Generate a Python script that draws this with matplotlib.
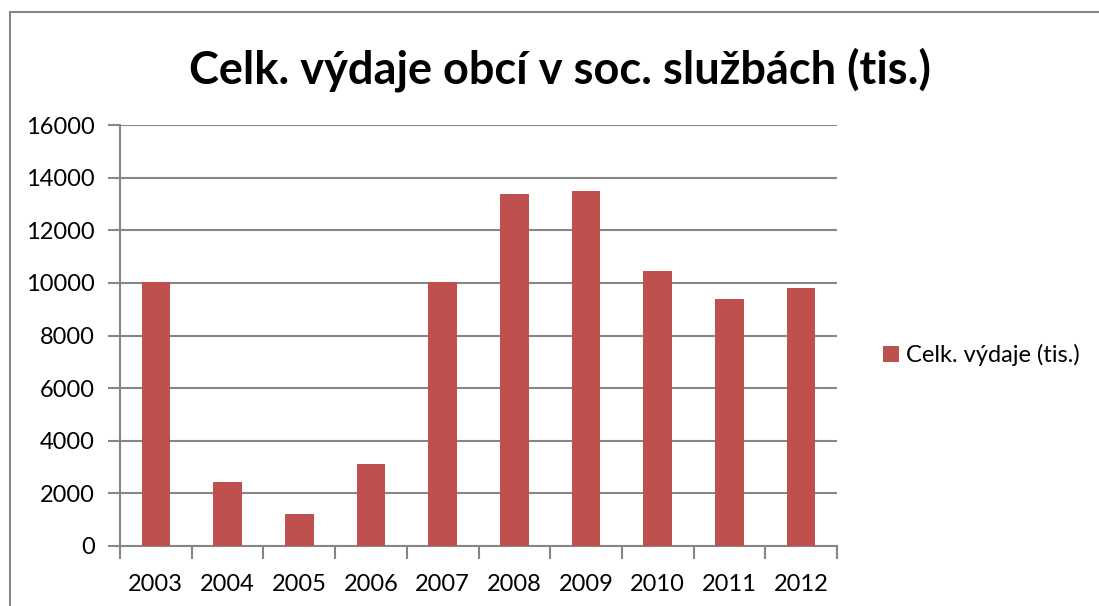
import matplotlib.pyplot as plt
import numpy as np
from matplotlib.patches import Rectangle

years = ["2003", "2004", "2005", "2006", "2007", "2008", "2009", "2010", "2011", "2012"]
vydaje = [10040, 2440, 1200, 3120, 10050, 13360, 13510, 10470, 9370, 9820]
yticks = [0, 2000, 4000, 6000, 8000, 10000, 12000, 14000, 16000]

plt.rcParams['font.family'] = ['Lato', 'DejaVu Sans']

W, H = 1099, 606
fig = plt.figure(figsize=(W / 100, H / 100), dpi=100)
ax = fig.add_axes([120 / W, 1 - 546 / H, (837 - 120) / W, (546 - 125) / H])

grid_c = '#868686'
bar_c = '#C0504D'

x = np.arange(len(years))
ax.bar(x, vydaje, width=0.4, color=bar_c, label='Celk. výdaje (tis.)', zorder=3)

ax.set_xlim(-0.5, len(years) - 0.5)
ax.set_ylim(0, 16000)
ax.set_yticks(yticks)
ax.set_yticklabels([str(v) for v in yticks])
ax.grid(axis='y', color=grid_c, linewidth=1.5, zorder=0)

ax.set_xticks(x)
ax.set_xticklabels(years)
ax.set_xticks(np.arange(len(years) + 1) - 0.5, minor=True)
ax.tick_params(axis='x', which='major', length=0, pad=20, labelsize=17)
ax.tick_params(axis='x', which='minor', length=9, width=1.5, color=grid_c, direction='out')
ax.tick_params(axis='y', length=9, width=1.5, color=grid_c, pad=9, labelsize=17)

for s in ['top', 'right']:
    ax.spines[s].set_visible(False)
for s in ['left', 'bottom']:
    ax.spines[s].set_color(grid_c)
    ax.spines[s].set_linewidth(1.5)

fig.text(560 / W, 1 - 70 / H, 'Celk. výdaje obcí v soc. službách (tis.)',
         ha='center', va='center', fontsize=32.5, fontweight='bold')

fig.legend(loc='center left', bbox_to_anchor=(862 / W, 1 - 355 / H), frameon=False,
           fontsize=17, handlelength=0.65, handleheight=0.65, handletextpad=0.3)

# chart frame
fig.add_artist(Rectangle((9.5 / W, -0.1), 1.2, 1.1 - 12.5 / H, transform=fig.transFigure,
                         fill=False, edgecolor=grid_c, linewidth=1.5))

fig.savefig('out.png', dpi=100)
